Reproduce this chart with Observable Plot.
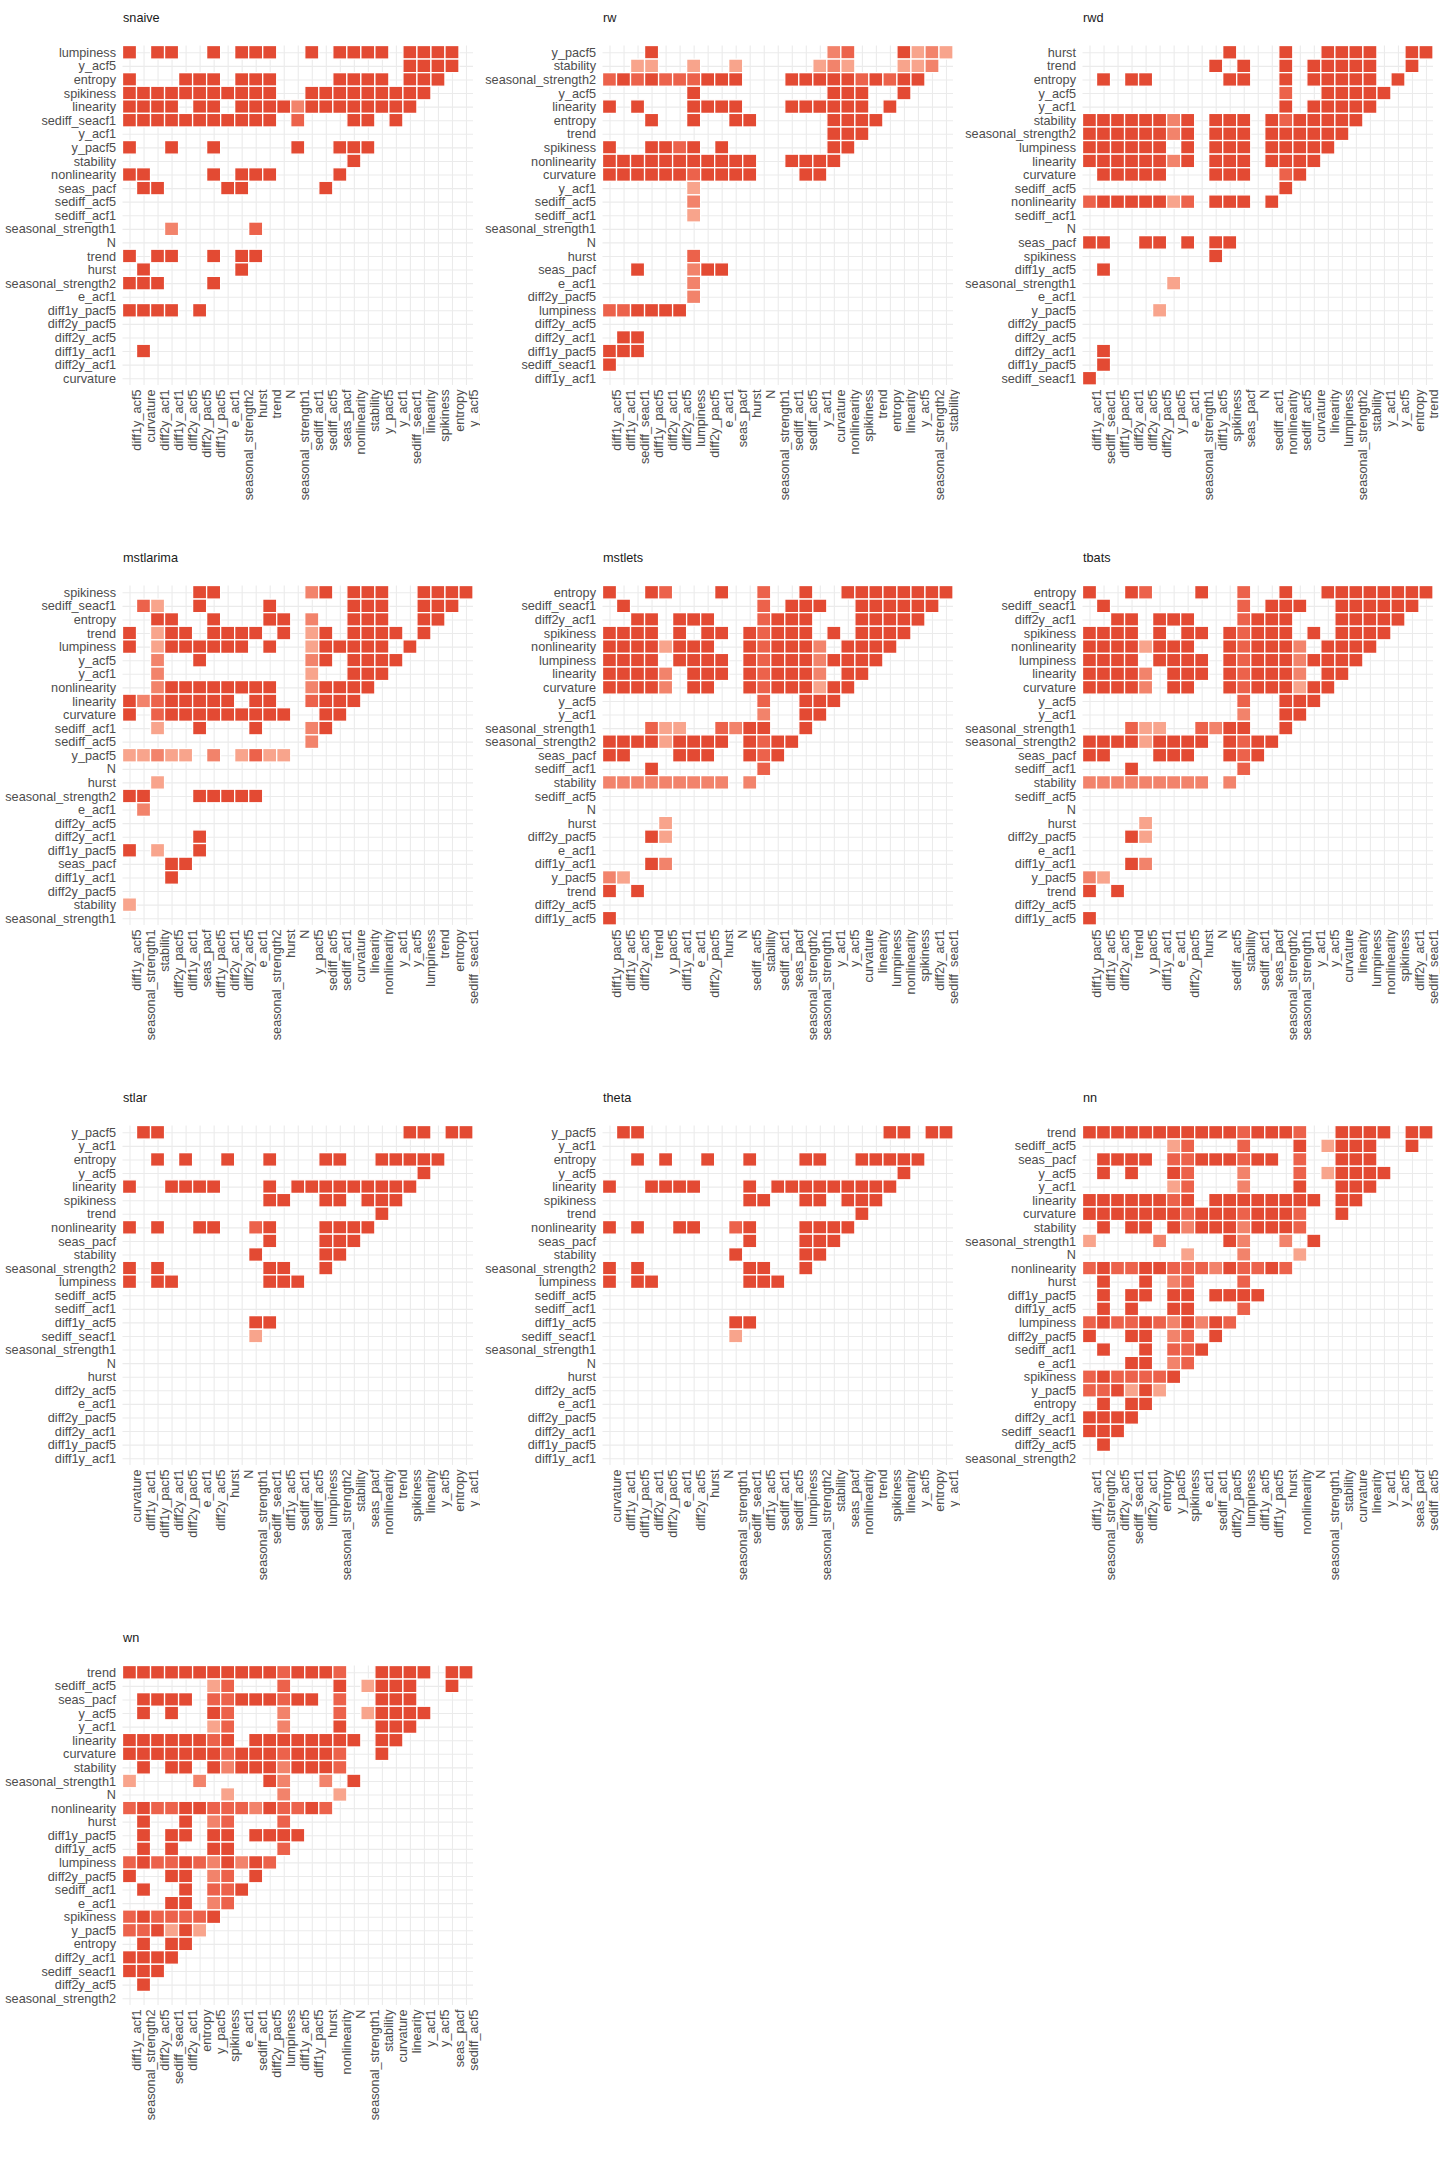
<!DOCTYPE html>
<html>
<head>
<meta charset="utf-8">
<script src="https://cdn.jsdelivr.net/npm/d3@7"></script>
<script src="https://cdn.jsdelivr.net/npm/@observablehq/plot@0.6"></script>
<style>
  body { margin: 0; background: #fff; }
  #grid { display: grid; grid-template-columns: repeat(3, 480px); width: 1440px; }
  #grid svg { display: block; }
</style>
</head>
<body>
<div id="grid"></div>
<script>
// feature order of each panel: the first 25 names are the x axis (left to right),
// the y axis runs from the last name (top row) down to the second one (bottom row)
// cells: one string per row, top to bottom, one char per x column
//   X = strong, a / m / o = weaker and weaker, "." = nothing

const snaiveFeatures = ["diff1y_acf5", "curvature", "diff2y_acf1", "diff1y_acf1", "diff2y_acf5",
  "diff2y_pacf5", "diff1y_pacf5", "e_acf1", "seasonal_strength2", "hurst", "trend", "N",
  "seasonal_strength1", "sediff_acf1", "sediff_acf5", "seas_pacf", "nonlinearity", "stability",
  "y_pacf5", "y_acf1", "sediff_seacf1", "linearity", "spikiness", "entropy", "y_acf5", "lumpiness"];
const snaiveCells = [
  "X.XX..X.XXX..X.XXXX.XXXX",
  "....................XXXX",
  "X...XXX.XXX....XXXX.XXX",
  "XXXXXXXXXXX..XXXXXXXXX",
  "XXXX.XX.XXXXmXXXXXXXX",
  "XXXXXXXXXXX.a...XX.X",
  "",
  "X..X..X.....X..XXX",
  "................X",
  "XX....X.XXX....X",
  ".XX....XX.....X",
  "",
  "",
  "...m.....a",
  "",
  "X.XX..X.XX",
  ".X......X",
  "XXX...X",
  "",
  "XXXX.X",
  "",
  "",
  ".X",
  "",
  ""
];

const rwFeatures = ["diff1y_acf5", "diff1y_acf1", "sediff_seacf1", "diff1y_pacf5", "diff2y_acf1",
  "diff2y_acf5", "lumpiness", "diff2y_pacf5", "e_acf1", "seas_pacf", "hurst", "N",
  "seasonal_strength1", "sediff_acf1", "sediff_acf5", "y_acf1", "curvature", "nonlinearity",
  "spikiness", "trend", "entropy", "linearity", "y_acf5", "seasonal_strength2", "stability", "y_pacf5"];
const rwCells = [
  "...X............ma...Xomo",
  "..oo..o..o.....omo...oom",
  "aXaXaaaXXX...XXXXXaXaXX",
  "......X.........XXX..X",
  "X.X...XXXX...XXXXXX.X",
  "...X..X..XX.....XXXX",
  "................XXX",
  "X..XXaX.X.......XX",
  "XXXXXXXXXXX..XXXX",
  "XXXXXXaXXXX...XX",
  "......o",
  "......m",
  "......o",
  "",
  "",
  "......a",
  "..X...mXX",
  "......m",
  "......m",
  "aaXXXX",
  "",
  ".XX",
  "XXX",
  "X",
  ""
];

const rwdFeatures = ["diff1y_acf1", "sediff_seacf1", "diff1y_pacf5", "diff2y_acf1", "diff2y_acf5",
  "diff2y_pacf5", "y_pacf5", "e_acf1", "seasonal_strength1", "diff1y_acf5", "spikiness", "seas_pacf",
  "N", "sediff_acf1", "nonlinearity", "sediff_acf5", "curvature", "linearity", "lumpiness",
  "seasonal_strength2", "stability", "y_acf1", "y_acf5", "entropy", "trend", "hurst"];
const rwdCells = [
  "..........X...X..XXXX..XX",
  ".........X.X..X.XXXXX..X",
  ".X.XX.....XX..X.XXXXX.X",
  "..............a..XXXXX",
  "..............X.XXXXX",
  "XXXXXXmX.XXX.XaXXXXX",
  "XXXXXXmX.XXX.XXXXXX",
  "XXXXXX.X.XXX.XXXXX",
  "XXXXXXmX.XXX.XXXX",
  ".XXXXX...XXX..aX",
  "..............X",
  "aXXXXXoa.XXX.X",
  "",
  "",
  "XX..XX.X.XX",
  ".........X",
  ".X",
  "......o",
  "",
  ".....o",
  "",
  "",
  ".X",
  ".X",
  "X"
];

const mstlarimaFeatures = ["diff1y_acf5", "seasonal_strength1", "stability", "diff2y_pacf5",
  "diff1y_acf1", "seas_pacf", "diff1y_pacf5", "diff2y_acf1", "diff2y_acf5", "e_acf1",
  "seasonal_strength2", "hurst", "N", "y_pacf5", "sediff_acf5", "sediff_acf1", "curvature",
  "linearity", "nonlinearity", "y_acf1", "y_acf5", "lumpiness", "trend", "entropy", "sediff_seacf1", "spikiness"];
const mstlarimaCells = [
  ".....XX......mX.XXX..XXXX",
  ".ao..X....X.....XXX..XXX",
  "..XX..X...XX.m..XXX..XX",
  "X.oXX.XXXX.X.oX.XXXX.X",
  "X.oXXXXXX.X..oXXXXX.X",
  "..m..X.......mX.XXXX",
  "..m..........o..XXX",
  "..mXXXXXXXX..mXXXX",
  "XmaXXXXX.XX..aXXX",
  "X.aXXXXXXXXX..XX",
  "..o..X...X...mX",
  ".............m",
  "oomoo.m.oaoo",
  "",
  "..o",
  "XX...XXXXX",
  ".m",
  "",
  ".....X",
  "X.o..X",
  "...XX",
  "...X",
  "",
  "o",
  ""
];

const mstletsFeatures = ["diff1y_pacf5", "diff1y_acf5", "diff2y_acf5", "trend", "y_pacf5",
  "diff1y_acf1", "e_acf1", "diff2y_pacf5", "hurst", "N", "sediff_acf5", "stability", "sediff_acf1",
  "seas_pacf", "seasonal_strength2", "seasonal_strength1", "y_acf1", "y_acf5", "curvature",
  "linearity", "lumpiness", "nonlinearity", "spikiness", "diff2y_acf1", "sediff_seacf1", "entropy"];
const mstletsCells = [
  "X..Xa...X..a..X..XXXXXXXX",
  ".X.........a.XXX..XXXXXX",
  "..XX.XXX...aXXX...XXXXX",
  "XXXX.X.XX.XaXXX.X.XXXX",
  "XXXXoXXX..XaXXXm.XXXX",
  "XXXX.XXXX.XaXXXmXXXX",
  "XXXXm.XXX.XaXXXm.XX",
  "XXXXm.XX..XaXXXoXX",
  "...........a..XXX",
  "...........m..XX",
  "...aoo..amXX..X",
  "XXXXoXXXX.XaXX",
  "XX...XXX..XaX",
  "...X.......a",
  "mmmmmmmmm.m",
  "",
  "",
  "....o",
  "...Xo",
  "",
  "...Xm",
  "mo",
  "X.X",
  "",
  "X"
];

// tbats reads exactly like mstlets in the picture
const tbatsFeatures = mstletsFeatures.slice();
const tbatsCells = mstletsCells.slice();

const stlarFeatures = ["curvature", "diff1y_acf1", "diff1y_pacf5", "diff2y_acf1", "diff2y_pacf5",
  "e_acf1", "diff2y_acf5", "hurst", "N", "seasonal_strength1", "sediff_seacf1", "diff1y_acf5",
  "sediff_acf1", "sediff_acf5", "lumpiness", "seasonal_strength2", "stability", "seas_pacf",
  "nonlinearity", "trend", "spikiness", "linearity", "y_acf5", "entropy", "y_acf1", "y_pacf5"];
const stlarCells = [
  ".XX.................XX.XX",
  "",
  "..X.X..X..X...XX..XXXXX",
  ".....................X",
  "X..XXXX...X.XXXXXXXXX",
  "..........XX..XX.XXX",
  "..................X",
  "X.X..XX..aX...XXXX",
  "..........X...XXX",
  ".........X....XX",
  "X.X.......XX..X",
  "X.XX......XXX",
  "",
  "",
  ".........XX",
  ".........o",
  "", "", "", "", "", "", "", "", ""
];

// theta reads exactly like stlar
const thetaFeatures = stlarFeatures.slice();
const thetaCells = stlarCells.slice();

const nnFeatures = ["diff1y_acf1", "seasonal_strength2", "diff2y_acf5", "sediff_seacf1",
  "diff2y_acf1", "entropy", "y_pacf5", "spikiness", "e_acf1", "sediff_acf1", "diff2y_pacf5",
  "lumpiness", "diff1y_acf5", "diff1y_pacf5", "hurst", "nonlinearity", "N", "seasonal_strength1",
  "stability", "curvature", "linearity", "y_acf1", "y_acf5", "seas_pacf", "sediff_acf5", "trend"];
const nnCells = [
  "XXXXXXXXXXXaXXXa..XXXX.XX",
  "......oa...a...X.oXXX..X",
  ".XXXX.aaXXXaXX.a..XXX",
  ".X.X..Xa...m...a.oXXXX",
  "......oa...m...X..XXX",
  "XXXXXXaX.XXXXXXXX.XX",
  "XXXXXXXaXXXaXXXa..X",
  ".X.XX.XmXXXmXXXa",
  "o....m....Xm..m.X",
  ".......o...m...o",
  "aXaaXXaaamXaaXa",
  ".X..X.ma...a",
  ".X.XX.XX.XXXX",
  ".X.X..XX...a",
  "aXaaXamXmXa",
  "X..XX.ma.X",
  ".X..X.aaX",
  "...XX.ma",
  "aXaaaaX",
  "aaXoXo",
  ".X.XX",
  "XXXX",
  "XXX",
  ".X",
  ""
];

// wn reads exactly like nn
const wnFeatures = nnFeatures.slice();
const wnCells = nnCells.slice();

const panelNames = ["snaive", "rw", "rwd", "mstlarima", "mstlets", "tbats", "stlar", "theta", "nn", "wn"];
const panelFeatures = [snaiveFeatures, rwFeatures, rwdFeatures, mstlarimaFeatures, mstletsFeatures,
  tbatsFeatures, stlarFeatures, thetaFeatures, nnFeatures, wnFeatures];
const panelCells = [snaiveCells, rwCells, rwdCells, mstlarimaCells, mstletsCells,
  tbatsCells, stlarCells, thetaCells, nnCells, wnCells];

const levels = ["X", "a", "m", "o"];
const levelColors = ["#E34A33", "#EC624B", "#F2836B", "#F8A48C"];

// turn the row strings into one record per filled tile
function tiles(features, rows) {
  var out = [];
  rows.forEach((row, r) => {
    [...row].forEach((ch, c) => {
      if (ch != ".") out.push({x: features[c], y: features[25 - r], level: ch});
    });
  });
  return out;
}

function panel(name, features, rows) {
  var xs = features.slice(0, 25);
  var ys = features.slice(1).reverse();
  return Plot.plot({
    width: 480,
    height: 540,
    marginLeft: 122.5,
    marginRight: 7,
    marginTop: 45.5,
    marginBottom: 155,
    style: {fontFamily: "'Liberation Sans', Arial, sans-serif", fontSize: "12.7px", background: "white", overflow: "visible"},
    // round: false keeps the bands at 14 x 13.6 px like the original
    x: {type: "band", domain: xs, padding: 0, round: false, axis: null},
    y: {type: "band", domain: ys, padding: 0, round: false, axis: null},
    color: {type: "ordinal", domain: levels, range: levelColors},
    marks: [
      Plot.gridX({stroke: "#EBEBEB", strokeOpacity: 1, strokeWidth: 1.1}),
      Plot.gridY({stroke: "#EBEBEB", strokeOpacity: 1, strokeWidth: 1.1}),
      Plot.cell(tiles(features, rows), {x: "x", y: "y", fill: "level", stroke: "white", strokeWidth: 1.3}),
      Plot.text(ys, {y: d => d, text: d => d, frameAnchor: "left", textAnchor: "end", dx: -7, fill: "#4D4D4D"}),
      Plot.text(xs, {x: d => d, text: d => d, frameAnchor: "bottom", rotate: -90, textAnchor: "end",
        lineAnchor: "top", dx: 2, dy: 4, fill: "#4D4D4D"}),
      Plot.text([name], {text: d => d, frameAnchor: "top-left", textAnchor: "start", dy: -33, fill: "#1A1A1A"})
    ]
  });
}

var grid = document.getElementById("grid");
panelNames.forEach((name, i) => {
  grid.appendChild(panel(name, panelFeatures[i], panelCells[i]));
});
</script>
</body>
</html>
